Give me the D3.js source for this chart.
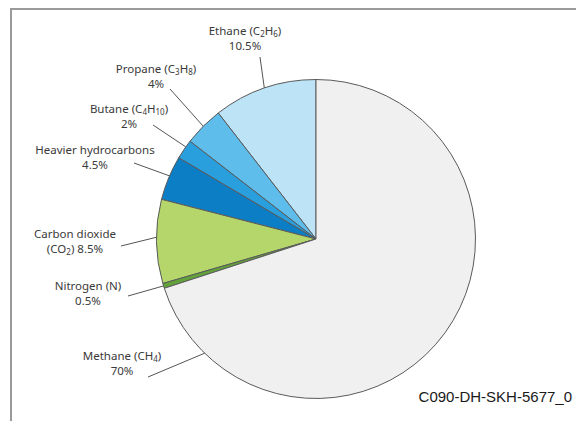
<!DOCTYPE html>
<html>
<head>
<meta charset="utf-8">
<script src="https://cdn.jsdelivr.net/npm/d3@7"></script>
<style>
  html, body { margin: 0; padding: 0; background: #fff; }
  svg { display: block; }
</style>
</head>
<body>
<svg id="chart" width="576" height="421"></svg>
<script>
// ---- data ----
const categories = ["Ethane", "Propane", "Butane", "Heavier hydrocarbons", "Carbon dioxide", "Nitrogen", "Methane"];
const values = [10.5, 4, 2, 4.5, 8.5, 0.5, 70];
// label lines: each item a list of lines; each line a list of [text, isSubscript]
const labelLines = [
  [[["Ethane (C", 0], ["2", 1], ["H", 0], ["6", 1], [")", 0]], [["10.5%", 0]]],
  [[["Propane (C", 0], ["3", 1], ["H", 0], ["8", 1], [")", 0]], [["4%", 0]]],
  [[["Butane (C", 0], ["4", 1], ["H", 0], ["10", 1], [")", 0]], [["2%", 0]]],
  [[["Heavier hydrocarbons", 0]], [["4.5%", 0]]],
  [[["Carbon dioxide", 0]], [["(CO", 0], ["2", 1], [") 8.5%", 0]]],
  [[["Nitrogen (N)", 0]], [["0.5%", 0]]],
  [[["Methane (CH", 0], ["4", 1], [")", 0]], [["70%", 0]]]
];
const colors = ["#bde3f6", "#5fbdec", "#2a9fdd", "#0c7ec6", "#b4d66b", "#62a23a", "#f0f0f1"];
const footnote = "C090-DH-SKH-5677_0";

// ---- layout (positions only) ----
const cx = 316, cy = 239, R = 159.5;
const labelLayout = [
  { x: 245, y: 35, lx: 260, ly: 57, f: 0.5 },
  { x: 156, y: 73, lx: 170, ly: 89, f: 0.5 },
  { x: 129, y: 113, lx: 153, ly: 125, f: 0.35 },
  { x: 95,  y: 154, lx: 134, ly: 163, f: 0.45 },
  { x: 75,  y: 238, lx: 121, ly: 246, f: 0.45 },
  { x: 88,  y: 290, lx: 128, ly: 296, f: 0.5 },
  { x: 122, y: 360, lx: 148, ly: 377, f: 0.11 }
];

const svg = d3.select("#chart");

// frame
svg.append("path")
  .attr("d", "M11,421 L11,9 L576,9")
  .attr("fill", "none")
  .attr("stroke", "#9a9a9a")
  .attr("stroke-width", 2);

const data = categories.map((c, i) => ({ name: c, value: values[i], i }));
const pie = d3.pie().value(d => d.value).sort(null)
  .startAngle(0).endAngle(-2 * Math.PI);
const arcs = pie(data);
const arc = d3.arc().innerRadius(0).outerRadius(R);

const g = svg.append("g").attr("transform", `translate(${cx},${cy})`);
g.selectAll("path.slice")
  .data(arcs)
  .join("path")
  .attr("class", "slice")
  .attr("d", arc)
  .attr("fill", d => colors[d.data.i])
  .attr("stroke", "#5a5a5a")
  .attr("stroke-width", 1)
  .attr("stroke-linejoin", "round");

// leaders
arcs.forEach((a, i) => {
  const L = labelLayout[i];
  const ang = a.startAngle + (a.endAngle - a.startAngle) * L.f;
  const ex = cx + R * Math.sin(ang), ey = cy - R * Math.cos(ang);
  svg.append("line")
    .attr("x1", L.lx).attr("y1", L.ly)
    .attr("x2", ex).attr("y2", ey)
    .attr("stroke", "#555").attr("stroke-width", 1);
});

// labels
labelLines.forEach((lines, i) => {
  const L = labelLayout[i];
  lines.forEach((parts, k) => {
    const t = svg.append("text")
      .attr("x", L.x).attr("y", L.y + k * 15)
      .attr("text-anchor", "middle")
      .attr("font-family", "'Noto Sans', 'Open Sans', sans-serif")
      .attr("font-size", 11.5)
      .attr("fill", "#3a3a3a");
    let shifted = false;
    parts.forEach(([txt, sub]) => {
      const ts = t.append("tspan").text(txt);
      if (sub) {
        ts.attr("font-size", 8).attr("dy", shifted ? 0 : 2);
        shifted = true;
      } else {
        ts.attr("dy", shifted ? -2 : 0);
        shifted = false;
      }
    });
  });
});

// footnote
svg.append("text")
  .attr("x", 572).attr("y", 402)
  .attr("text-anchor", "end")
  .attr("font-family", "'Liberation Sans', Arial, sans-serif")
  .attr("font-size", 15)
  .attr("fill", "#1a1a1a")
  .text(footnote);
</script>
</body>
</html>
